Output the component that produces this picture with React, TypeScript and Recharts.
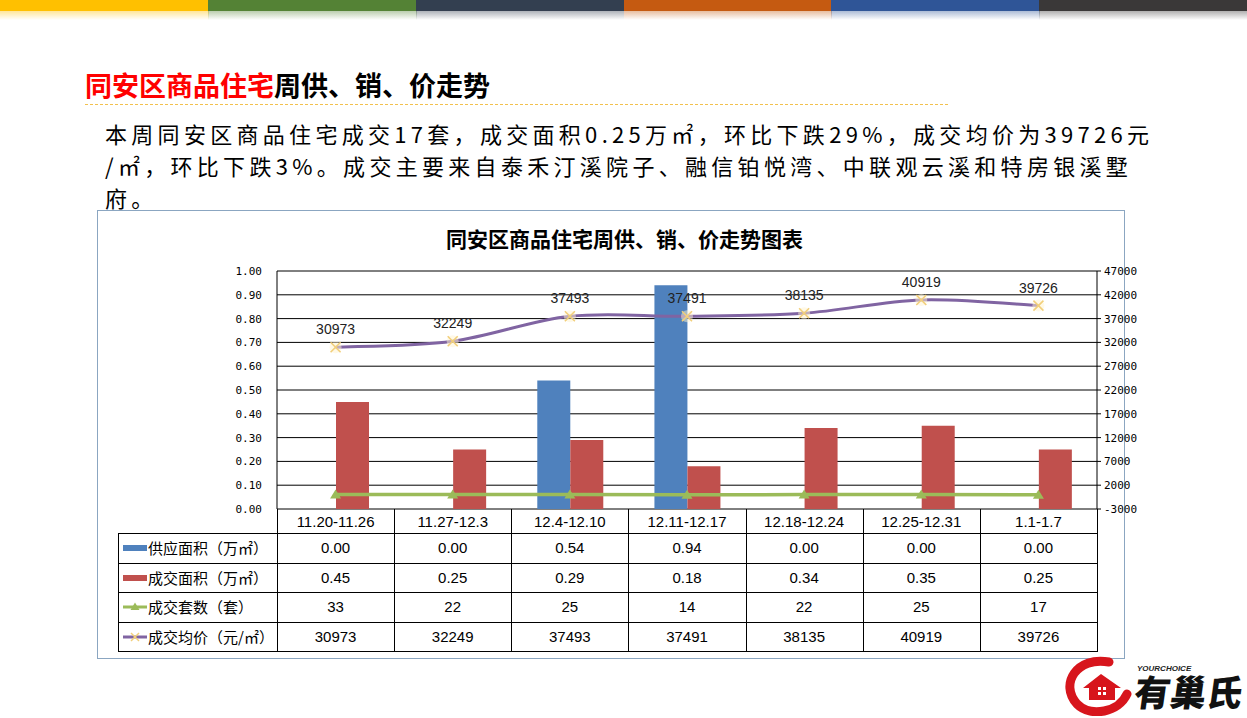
import React from 'react';
import { ComposedChart, Bar, Line, XAxis, YAxis, CartesianGrid, LabelList } from 'recharts';

const weeks = ['11.20-11.26', '11.27-12.3', '12.4-12.10', '12.11-12.17', '12.18-12.24', '12.25-12.31', '1.1-1.7'];
const supplyArea = [0, 0, 0.54, 0.94, 0, 0, 0];
const dealArea = [0.45, 0.25, 0.29, 0.18, 0.34, 0.35, 0.25];
const dealCount = [33, 22, 25, 14, 22, 25, 17];
const avgPrice = [30973, 32249, 37493, 37491, 38135, 40919, 39726];

const leftTicks = [0, 0.1, 0.2, 0.3, 0.4, 0.5, 0.6, 0.7, 0.8, 0.9, 1];
const rightTicks = [-3000, 2000, 7000, 12000, 17000, 22000, 27000, 32000, 37000, 42000, 47000];

const topStripe = ['#FFC000', '#548235', '#333F50', '#C55A11', '#2F5597', '#3A3838'];

const BLUE = '#4F81BD';
const RED = '#C0504D';
const GREEN = '#9BBB59';
const PURPLE = '#8064A2';
const MARK = '#F2CF7A';

const cjk = '"Noto Sans CJK SC", "Noto Sans", sans-serif';
const latin = '"Liberation Sans", "Noto Sans CJK SC", sans-serif';
const mono = '"DejaVu Sans Mono", monospace';

const data = weeks.map((w, i) => ({
  week: w,
  supply: supplyArea[i],
  deal: dealArea[i],
  count: dealCount[i],
  price: avgPrice[i],
}));

// Excel-style smoothed line (Catmull-Rom through the points)
const excelSmooth = (context: any) => {
  let pts: number[][] = [];
  return {
    areaStart() {},
    areaEnd() {},
    lineStart() { pts = []; },
    point(x: number, y: number) { pts.push([+x, +y]); },
    lineEnd() {
      if (!pts.length) return;
      context.moveTo(pts[0][0], pts[0][1]);
      for (let i = 0; i < pts.length - 1; i++) {
        const p0 = pts[Math.max(0, i - 1)];
        const p1 = pts[i];
        const p2 = pts[i + 1];
        const p3 = pts[Math.min(pts.length - 1, i + 2)];
        context.bezierCurveTo(
          p1[0] + (p2[0] - p0[0]) / 6, p1[1] + (p2[1] - p0[1]) / 6,
          p2[0] - (p3[0] - p1[0]) / 6, p2[1] - (p3[1] - p1[1]) / 6,
          p2[0], p2[1]
        );
      }
    },
  };
};

const TriangleDot = (p: any) => (
  <polygon key={`t${p.index}`} points={`${p.cx},${p.cy - 5} ${p.cx - 5.5},${p.cy + 4} ${p.cx + 5.5},${p.cy + 4}`} fill={GREEN} />
);

const CrossDot = (p: any) => (
  <g key={`x${p.index}`}>
    <circle cx={p.cx} cy={p.cy} r={6} fill="#FFF4D0" opacity={0.5} />
    <line x1={p.cx - 5} y1={p.cy - 5} x2={p.cx + 5} y2={p.cy + 5} stroke={MARK} strokeWidth={1.6} />
    <line x1={p.cx - 5} y1={p.cy + 5} x2={p.cx + 5} y2={p.cy - 5} stroke={MARK} strokeWidth={1.6} />
  </g>
);

// table geometry
const PLOT_L = 277;
const PLOT_R = 1097;
const COL = (PLOT_R - PLOT_L) / weeks.length;
const TABLE_L = 118;
const rowY = [533, 563, 592, 622, 651];

const rows = [
  { label: '供应面积（万㎡）', values: supplyArea.map(v => v.toFixed(2)), key: 'bar', color: BLUE },
  { label: '成交面积（万㎡）', values: dealArea.map(v => v.toFixed(2)), key: 'bar', color: RED },
  { label: '成交套数（套）', values: dealCount.map(String), key: 'tri', color: GREEN },
  { label: '成交均价（元/㎡）', values: avgPrice.map(String), key: 'cross', color: PURPLE },
];

const paragraph = [
  '本周同安区商品住宅成交17套，成交面积0.25万㎡，环比下跌29%，成交均价为39726元',
  '/㎡，环比下跌3%。成交主要来自泰禾汀溪院子、融信铂悦湾、中联观云溪和特房银溪墅',
  '府。',
];

const LegendKey = ({ kind, color }: { kind: string; color: string }) => (
  <svg width={26} height={12} style={{ position: 'absolute', left: 122, top: -6 }}>
    {kind === 'bar' && <rect x={1} y={3} width={24} height={6} fill={color} />}
    {kind === 'tri' && (
      <g>
        <line x1={1} y1={6} x2={25} y2={6} stroke={color} strokeWidth={3} />
        <polygon points="13,1.5 8.5,9 17.5,9" fill={color} />
      </g>
    )}
    {kind === 'cross' && (
      <g>
        <line x1={1} y1={6} x2={25} y2={6} stroke={color} strokeWidth={3} />
        <line x1={9} y1={2} x2={17} y2={10} stroke={MARK} strokeWidth={1.5} />
        <line x1={9} y1={10} x2={17} y2={2} stroke={MARK} strokeWidth={1.5} />
      </g>
    )}
  </svg>
);

const App: React.FC = () => {
  return (
    <div style={{ position: 'absolute', left: 0, top: 0, width: 1247, height: 718, background: '#fff', overflow: 'hidden' }}>
      {/* coloured stripe at the top */}
      {topStripe.map((c, i) => (
        <div key={c} style={{ position: 'absolute', left: (i * 1247) / 6, top: 0, width: 1247 / 6 + 1, height: 20 }}>
          <div style={{ height: 11, background: c }} />
          <div style={{ height: 9, background: `linear-gradient(to bottom, ${c}66, ${c}00)` }} />
        </div>
      ))}

      <div style={{ position: 'absolute', left: 85, top: 69, fontFamily: cjk, fontWeight: 700, fontSize: 27, lineHeight: '32px', whiteSpace: 'nowrap' }}>
        <span style={{ color: '#FF0000' }}>同安区商品住宅</span>
        <span style={{ color: '#000' }}>周供、销、价走势</span>
      </div>
      <div style={{ position: 'absolute', left: 85, top: 104, width: 863, borderTop: '1px dashed #F2C14E' }} />

      {paragraph.map((line, i) => (
        <div
          key={i}
          style={{ position: 'absolute', left: 105, top: 117 + i * 32, fontFamily: cjk, fontSize: 22, letterSpacing: 4.3, lineHeight: '32px', color: '#000', whiteSpace: 'nowrap' }}
        >
          {line}
        </div>
      ))}

      {/* chart frame */}
      <div style={{ position: 'absolute', left: 97, top: 210, width: 1026, height: 447, border: '1px solid #8BA6C1' }} />
      <div style={{ position: 'absolute', left: 446, top: 223, fontFamily: cjk, fontWeight: 700, fontSize: 21, lineHeight: '30px', whiteSpace: 'nowrap', color: '#000' }}>
        同安区商品住宅周供、销、价走势图表
      </div>

      <div style={{ position: 'absolute', left: 200, top: 255 }}>
        <ComposedChart
          width={980}
          height={290}
          data={data}
          margin={{ top: 16, right: 23, left: 17, bottom: 12 }}
          barGap={0}
        >
          <CartesianGrid yAxisId="left" vertical={false} stroke="#000" strokeWidth={1} />
          <XAxis
            dataKey="week"
            height={24}
            axisLine={false}
            tickLine={false}
            tickSize={0}
            tickMargin={7}
            interval={0}
            tick={{ fontSize: 15, fill: '#000', fontFamily: latin }}
          />
          <YAxis
            yAxisId="left"
            width={60}
            domain={[0, 1]}
            ticks={leftTicks}
            interval={0}
            tickFormatter={(v: number) => v.toFixed(2)}
            axisLine={{ stroke: '#000' }}
            tickLine={false}
            tickMargin={9}
            tick={{ fontSize: 11, fill: '#000', fontFamily: mono }}
          />
          <YAxis
            yAxisId="right"
            orientation="right"
            width={60}
            domain={[-3000, 47000]}
            ticks={rightTicks}
            interval={0}
            axisLine={{ stroke: '#000' }}
            tickLine={{ stroke: '#000' }}
            tickSize={4}
            tickMargin={3}
            tick={{ fontSize: 11, fill: '#000', fontFamily: mono }}
          />
          <Bar yAxisId="left" dataKey="supply" fill={BLUE} barSize={33} isAnimationActive={false} />
          <Bar yAxisId="left" dataKey="deal" fill={RED} barSize={33} isAnimationActive={false} />
          <Line
            yAxisId="right"
            dataKey="count"
            type="linear"
            stroke={GREEN}
            strokeWidth={3.5}
            dot={TriangleDot}
            activeDot={false}
            isAnimationActive={false}
          />
          <Line
            yAxisId="right"
            dataKey="price"
            type={excelSmooth as any}
            stroke={PURPLE}
            strokeWidth={3}
            dot={CrossDot}
            activeDot={false}
            isAnimationActive={false}
          >
            <LabelList dataKey="price" position="top" offset={13} fontSize={14} fill="#222" fontFamily={latin} />
          </Line>
        </ComposedChart>
      </div>

      {/* data table under the chart */}
      {rowY.map(y => (
        <div key={`h${y}`} style={{ position: 'absolute', left: TABLE_L, top: y, width: PLOT_R - TABLE_L + 1, height: 1, background: '#000' }} />
      ))}
      <div style={{ position: 'absolute', left: TABLE_L, top: rowY[0], width: 1, height: rowY[4] - rowY[0] + 1, background: '#000' }} />
      {weeks.map((w, i) => (
        <div key={`v${w}`} style={{ position: 'absolute', left: Math.round(PLOT_L + i * COL), top: 509, width: 1, height: rowY[4] - 509 + 1, background: '#000' }} />
      ))}
      <div style={{ position: 'absolute', left: PLOT_R, top: 509, width: 1, height: rowY[4] - 509 + 1, background: '#000' }} />

      {rows.map((r, ri) => {
        const cy = (rowY[ri] + rowY[ri + 1]) / 2;
        return (
          <div key={r.label} style={{ position: 'absolute', left: 0, top: cy, width: 1247, height: 0 }}>
            <LegendKey kind={r.key} color={r.color} />
            <div style={{ position: 'absolute', left: 148, top: -11, fontFamily: cjk, fontSize: 15, lineHeight: '22px', color: '#000', whiteSpace: 'nowrap' }}>
              {r.label}
            </div>
            {r.values.map((v, ci) => (
              <div
                key={ci}
                style={{ position: 'absolute', left: PLOT_L + ci * COL, top: -11, width: COL, textAlign: 'center', fontFamily: latin, fontSize: 15, lineHeight: '22px', color: '#000' }}
              >
                {v}
              </div>
            ))}
          </div>
        );
      })}

      {/* logo */}
      <svg width={190} height={62} style={{ position: 'absolute', left: 1057, top: 654 }}>
        <path d="M 52 8 C 20 2, 2 30, 20 50 C 34 64, 62 58, 70 40" fill="none" stroke="#D7151C" strokeWidth={9} strokeLinecap="round" />
        <path d="M 26 34 L 44 20 L 64 34 L 58 34 L 58 46 L 32 46 L 32 34 Z" fill="#D7151C" />
        <rect x={41} y={33} width={3} height={3} fill="#fff" />
        <rect x={46} y={33} width={3} height={3} fill="#fff" />
        <rect x={41} y={38} width={3} height={3} fill="#fff" />
        <rect x={46} y={38} width={3} height={3} fill="#fff" />
        <text x={80} y={17} fontSize={8} fontStyle="italic" fontWeight={700} fontFamily={latin} fill="#222">YOURCHOICE</text>
        <text x={76} y={52} fontSize={36} fontWeight={900} fontFamily={cjk} fill="#111" transform="skewX(-8) translate(7 0)">有巢氏</text>
      </svg>
    </div>
  );
};

export default App;
